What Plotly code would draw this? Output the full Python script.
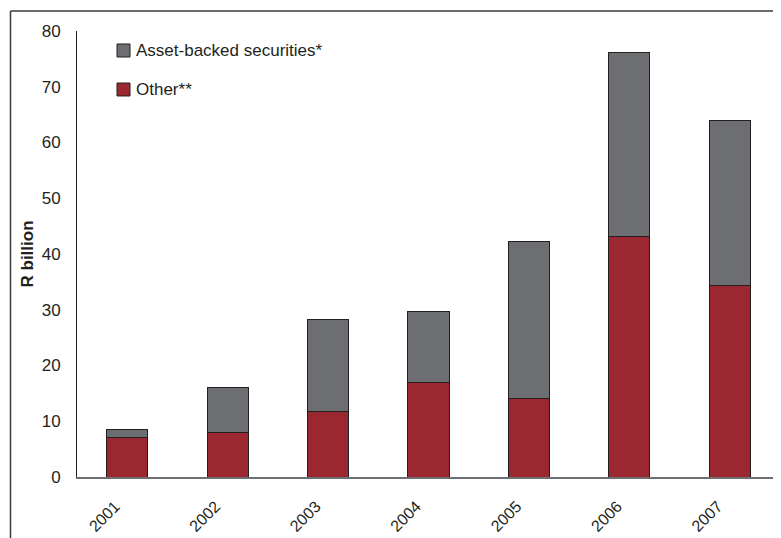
import plotly.graph_objects as go

years = ["2001", "2002", "2003", "2004", "2005", "2006", "2007"]
other = [7.0, 8.0, 11.7, 16.9, 14.0, 43.2, 34.3]
asset_backed = [1.5, 8.1, 16.5, 12.7, 28.2, 33.0, 29.7]
legend_labels = ["Asset-backed securities*", "Other**"]

FONT = "Liberation Sans, Arial, sans-serif"
RED = "#9b2830"
GREY = "#6d6e71"
OUTLINE = "#231f20"

fig = go.Figure()
fig.add_trace(go.Bar(
    x=years, y=other, name=legend_labels[1],
    marker=dict(color=RED, line=dict(color=OUTLINE, width=1)), width=0.41,
))
fig.add_trace(go.Bar(
    x=years, y=asset_backed, name=legend_labels[0],
    marker=dict(color=GREY, line=dict(color=OUTLINE, width=1)), width=0.41,
))

# Legend drawn as swatches + text (paper coordinates)
legend_items = [(legend_labels[0], GREY, 0.9709, 0.9417, 0.9563),
                (legend_labels[1], RED, 0.8834, 0.8543, 0.8688)]
shapes = []
annotations = []
for label, col, y1, y0, yc in legend_items:
    shapes.append(dict(type="rect", xref="paper", yref="paper",
                       x0=0.0569, x1=0.0754, y0=y0, y1=y1,
                       fillcolor=col, line=dict(color=OUTLINE, width=1)))
    annotations.append(dict(text=label, xref="paper", yref="paper",
                            x=0.0805, y=yc, xanchor="left", yanchor="middle",
                            showarrow=False, font=dict(size=17, color="#231f20")))

# outer frame (top and left edges)
shapes += [
    dict(type="line", xref="paper", yref="paper", x0=-0.0946, x1=1.02,
         y0=1.0448, y1=1.0448, line=dict(color="#3a3a3a", width=1.5)),
    dict(type="line", xref="paper", yref="paper", x0=-0.0946, x1=-0.0946,
         y0=1.0448, y1=-0.2, line=dict(color="#3a3a3a", width=1.5)),
]

fig.update_layout(
    width=773, height=530,
    barmode="stack",
    paper_bgcolor="white", plot_bgcolor="white",
    margin=dict(l=69, r=1, t=23, b=61),
    font=dict(family=FONT, size=16, color="#231f20"),
    showlegend=False,
    xaxis=dict(
        range=[-0.5, 6.5], showline=True, linecolor="#6d6e71", linewidth=1.5,
        ticks="", tickangle=-45, showgrid=False,
        tickfont=dict(size=16), ticklabelstandoff=12, ticklabelshift=-12,
    ),
    yaxis=dict(
        range=[0, 80], dtick=10, showline=True, linecolor="#231f20", linewidth=1,
        ticks="", showgrid=False, zeroline=False, ticklabelstandoff=12,
        tickfont=dict(size=17),
        title=dict(text="<b>R billion</b>", font=dict(size=17), standoff=3),
    ),
    shapes=shapes,
    annotations=annotations,
)

fig.write_html("out.html")
